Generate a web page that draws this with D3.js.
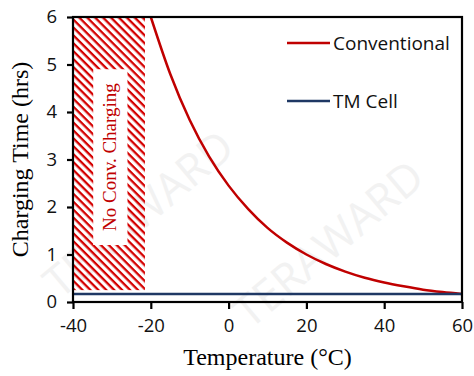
<!DOCTYPE html>
<html>
<head>
<meta charset="utf-8">
<script src="https://cdn.jsdelivr.net/npm/d3@7"></script>
<style>
  body { margin: 0; background: #fff; }
  svg { display: block; }
</style>
</head>
<body>
<div id="chart"></div>
<script>
// Data
const temps = [-20, -15, -10, -5, 0, 5, 10, 15, 20, 25, 30, 35, 40, 45, 50, 55, 60];
const conventional = [6.0, 4.80, 3.83, 3.06, 2.45, 1.96, 1.56, 1.25, 1.0, 0.80, 0.64, 0.51, 0.41, 0.33, 0.26, 0.21, 0.17];
const tmTemps = [-40, 60];
const tmCell = [0.17, 0.17];
const noChargeRange = [-40, -21.5]; // hatched zone
const noChargeY = [0.25, 6];
const xTicks = [-40, -20, 0, 20, 40, 60];
const yTicks = [0, 1, 2, 3, 4, 5, 6];

const width = 474, height = 376;
const margin = {top: 17, right: 12, bottom: 74, left: 73};

const svg = d3.select("#chart")
  .append("svg")
  .attr("width", width)
  .attr("height", height);

// faint watermark
const wm = svg.append("g").attr("fill", "#f2f2f2").attr("font-family", "Open Sans, sans-serif").attr("font-size", 44);
wm.append("text").attr("transform", "translate(60,300) rotate(-40)").text("TERAWARD");
wm.append("text").attr("transform", "translate(250,330) rotate(-40)").text("TERAWARD");

const x = d3.scaleLinear().domain([-40, 60]).range([margin.left, width - margin.right]);
const y = d3.scaleLinear().domain([0, 6]).range([height - margin.bottom, margin.top]);

// hatch pattern
const defs = svg.append("defs");
defs.append("pattern")
  .attr("id", "hatch")
  .attr("patternUnits", "userSpaceOnUse")
  .attr("width", 5.6)
  .attr("height", 5.6)
  .attr("patternTransform", "rotate(45)")
  .append("rect")
  .attr("x", 0).attr("y", 0)
  .attr("width", 5.6).attr("height", 2.3)
  .attr("fill", "#d40000");

svg.append("rect")
  .attr("x", x(noChargeRange[0]))
  .attr("y", y(noChargeY[1]))
  .attr("width", x(noChargeRange[1]) - x(noChargeRange[0]))
  .attr("height", y(noChargeY[0]) - y(noChargeY[1]))
  .attr("fill", "url(#hatch)");

// white label box inside hatch
const boxX0 = -34.8, boxX1 = -26.0, boxY0 = 1.2, boxY1 = 4.9;
svg.append("rect")
  .attr("x", x(boxX0))
  .attr("y", y(boxY1))
  .attr("width", x(boxX1) - x(boxX0))
  .attr("height", y(boxY0) - y(boxY1))
  .attr("fill", "#fff");

svg.append("text")
  .attr("transform", `translate(${(x(boxX0) + x(boxX1)) / 2 + 6},${(y(boxY0) + y(boxY1)) / 2}) rotate(-90)`)
  .attr("text-anchor", "middle")
  .attr("font-family", "Liberation Serif, Times New Roman, serif")
  .attr("font-size", 19)
  .attr("fill", "#c00000")
  .text("No Conv. Charging");

// lines
const line = d3.line()
  .x(d => x(d[0]))
  .y(d => y(d[1]))
  .curve(d3.curveMonotoneX);

svg.append("path")
  .datum(temps.map((t, i) => [t, conventional[i]]))
  .attr("d", line)
  .attr("fill", "none")
  .attr("stroke", "#c00000")
  .attr("stroke-width", 2.5);

svg.append("path")
  .datum(tmTemps.map((t, i) => [t, tmCell[i]]))
  .attr("d", line)
  .attr("fill", "none")
  .attr("stroke", "#1f3864")
  .attr("stroke-width", 2.5);

// frame
svg.append("rect")
  .attr("x", margin.left)
  .attr("y", margin.top)
  .attr("width", width - margin.left - margin.right)
  .attr("height", height - margin.top - margin.bottom)
  .attr("fill", "none")
  .attr("stroke", "#000")
  .attr("stroke-width", 2.2);

// axes
const xAxis = svg.append("g")
  .attr("transform", `translate(0,${height - margin.bottom})`)
  .call(d3.axisBottom(x).tickValues(xTicks).tickSize(7).tickPadding(10).tickFormat(d3.format("d")));
const yAxis = svg.append("g")
  .attr("transform", `translate(${margin.left},0)`)
  .call(d3.axisLeft(y).tickValues(yTicks).tickSize(6).tickPadding(10).tickFormat(d3.format("d")));

[xAxis, yAxis].forEach(a => {
  a.select(".domain").remove();
  a.selectAll(".tick line").attr("stroke", "#000").attr("stroke-width", 2.2);
  a.selectAll(".tick text")
    .attr("fill", "#111")
    .attr("font-family", "Open Sans, sans-serif")
    .attr("font-size", 18.5);
});
xAxis.selectAll(".tick text").text(d => d < 0 ? "-" + Math.abs(d) : d);

// axis titles
svg.append("text")
  .attr("x", (margin.left + width - margin.right) / 2)
  .attr("y", 365)
  .attr("text-anchor", "middle")
  .attr("font-family", "Liberation Serif, Times New Roman, serif")
  .attr("font-size", 24)
  .attr("fill", "#000")
  .text("Temperature (°C)");

svg.append("text")
  .attr("transform", `translate(28,${(margin.top + height - margin.bottom) / 2}) rotate(-90)`)
  .attr("text-anchor", "middle")
  .attr("font-family", "Liberation Serif, Times New Roman, serif")
  .attr("font-size", 24)
  .attr("fill", "#000")
  .text("Charging Time (hrs)");

// legend
const legendItems = [
  {name: "Conventional", color: "#c00000", y: 43},
  {name: "TM Cell", color: "#1f3864", y: 101}
];
const legend = svg.append("g");
legend.selectAll("line")
  .data(legendItems)
  .enter()
  .append("line")
  .attr("x1", 287).attr("x2", 330)
  .attr("y1", d => d.y).attr("y2", d => d.y)
  .attr("stroke", d => d.color)
  .attr("stroke-width", 2.5);
legend.selectAll("text")
  .data(legendItems)
  .enter()
  .append("text")
  .attr("x", 333)
  .attr("y", d => d.y + 7)
  .attr("font-family", "Open Sans, sans-serif")
  .attr("font-size", 19)
  .attr("fill", "#111")
  .text(d => d.name);
</script>
</body>
</html>
